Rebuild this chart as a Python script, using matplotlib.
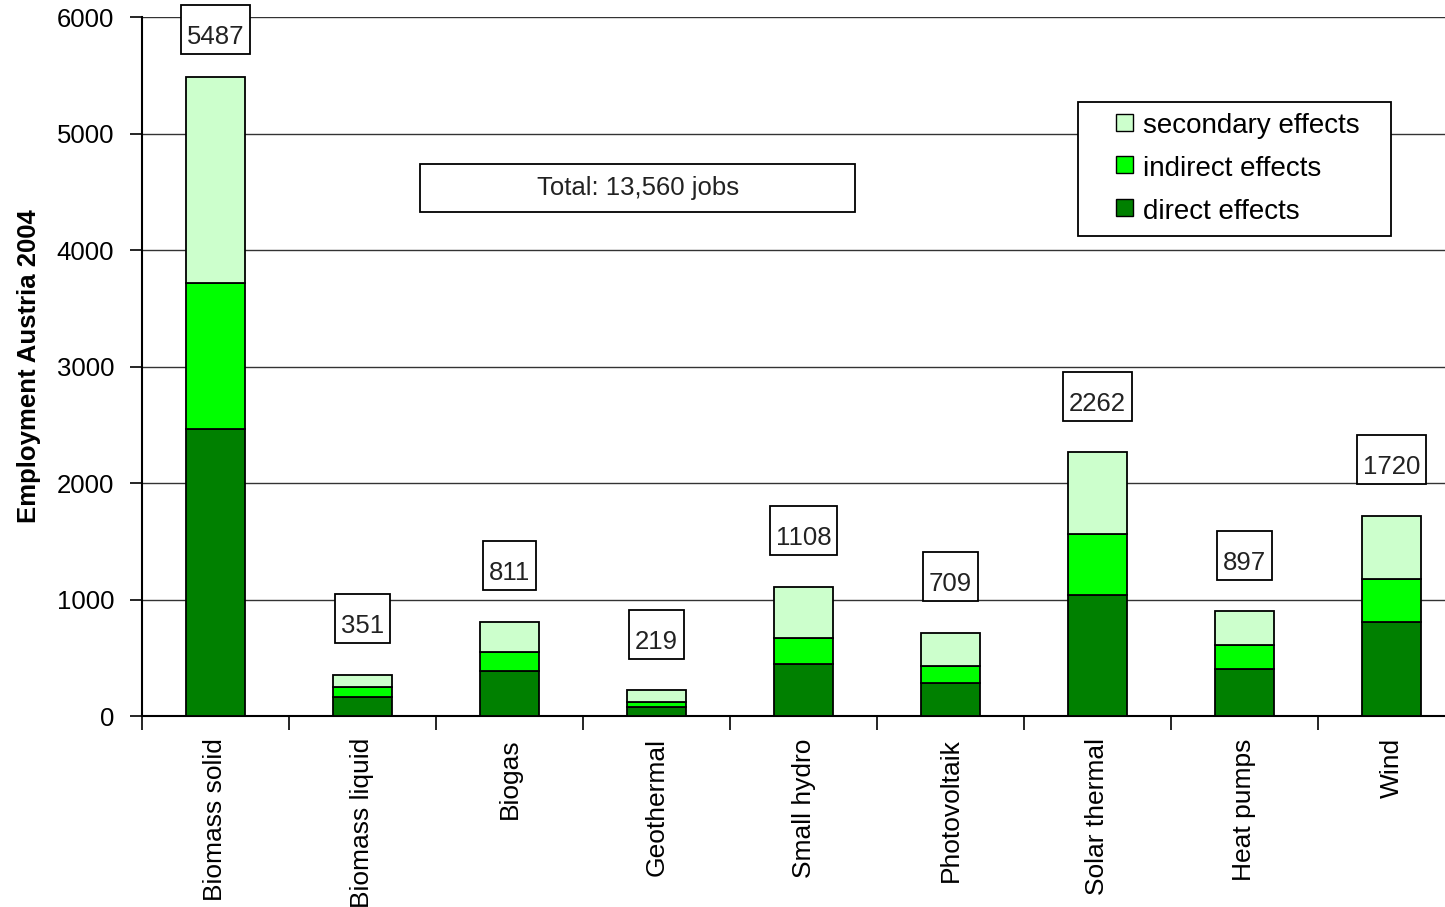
import matplotlib
matplotlib.use('Agg')
import matplotlib.pyplot as plt
import matplotlib.patches as mpatches
from matplotlib.legend_handler import HandlerPatch
import numpy as np

plt.rcParams['font.family'] = ['Liberation Sans', 'DejaVu Sans']

categories = ['Biomass solid', 'Biomass liquid', 'Biogas', 'Geothermal',
              'Small hydro', 'Photovoltaik', 'Solar thermal', 'Heat pumps', 'Wind']
direct = [2465, 163, 387, 80, 447, 284, 1037, 407, 805]
indirect = [1250, 84, 160, 38, 220, 149, 521, 206, 369]
secondary = [1772, 104, 264, 101, 441, 276, 704, 284, 546]
totals = [5487, 351, 811, 219, 1108, 709, 2262, 897, 1720]
total_text = 'Total: 13,560 jobs'

c_sec = '#ccffcc'
c_ind = '#00ff00'
c_dir = '#008000'

W, H = 1445, 907
fig = plt.figure(figsize=(W / 100, H / 100), dpi=100)
# axis runs past the right edge of the picture (cropped original)
ax = fig.add_axes([142 / W, (H - 716) / H, (W - 142) / W, 699 / H])

x = np.arange(len(categories))
d = np.array(direct)
i_ = np.array(indirect)
s = np.array(secondary)
bw = 0.4
ax.bar(x, d, bw, color=c_dir, edgecolor='black', linewidth=1.3, zorder=3)
ax.bar(x, i_, bw, bottom=d, color=c_ind, edgecolor='black', linewidth=1.3, zorder=3)
ax.bar(x, s, bw, bottom=d + i_, color=c_sec, edgecolor='black', linewidth=1.3, zorder=3)

# ticks
ax.set_xticks(np.arange(-0.5, len(categories) - 0.5, 1))
ax.set_xticklabels([])
ax.set_xticks(x, minor=True)
ax.set_xticklabels(categories, minor=True, rotation=90, fontsize=19, va='top')
ax.tick_params(axis='x', which='major', length=10, width=1.2, direction='out')
ax.tick_params(axis='x', which='minor', length=0, pad=16)
ax.set_yticks(np.arange(0, 6001, 1000))
ax.tick_params(axis='y', length=9, width=1.2, labelsize=18.5, pad=11)

ax.set_xlim(-0.5, -0.5 + (W - 142) / 147)
ax.set_ylim(0, 6000)

ax.yaxis.grid(True, color='#333333', lw=1.0, zorder=0)
ax.set_axisbelow(True)
for sp in ['top', 'right']:
    ax.spines[sp].set_visible(False)
for sp in ['left', 'bottom']:
    ax.spines[sp].set_linewidth(1.5)

ax.set_ylabel('Employment Austria 2004', fontsize=18.5, fontweight='bold')
ax.yaxis.set_label_coords(-101 / 1303, 0.5)

# value labels above bars (boxes added after draw)
val_texts = []
for xi, t in zip(x, totals):
    yy = min(t + 420, 5830)
    val_texts.append(ax.text(xi, yy, str(t), ha='center', va='center', fontsize=18.5,
                             color='#222222', zorder=6, clip_on=False))

# total box
ax.add_patch(mpatches.Rectangle((0.2134, 0.721), 0.334, 0.0687, transform=ax.transAxes,
                                facecolor='white', edgecolor='black', lw=1.3, zorder=4))
ax.text(0.2134 + 0.167, 0.721 + 0.034, total_text, transform=ax.transAxes,
        ha='center', va='center', fontsize=18.5, color='#222222', zorder=5)


def small_square(legend, orig_handle, xdescent, ydescent, width, height, fontsize):
    side = 0.62 * fontsize
    return mpatches.Rectangle((width - side - xdescent, height / 2 - side / 2 + 1 - ydescent),
                              side, side)


handles = [mpatches.Patch(facecolor=c_sec, edgecolor='black', label='secondary effects'),
           mpatches.Patch(facecolor=c_ind, edgecolor='black', label='indirect effects'),
           mpatches.Patch(facecolor=c_dir, edgecolor='black', label='direct effects')]
leg = ax.legend(handles=handles, loc='upper left',
                bbox_to_anchor=(0.7184, 0.5, 0.2402, 0.379), mode='expand',
                fontsize=20, fancybox=False, edgecolor='black', framealpha=1,
                handlelength=1.55, handleheight=0.7, handletextpad=0.36,
                labelspacing=0.6, borderpad=0.42, borderaxespad=0,
                handler_map={mpatches.Patch: HandlerPatch(patch_func=small_square)})
leg.get_frame().set_linewidth(1.3)
leg.set_zorder(6)

# boxes around value labels: more room above the digits than below
fig.canvas.draw()
r = fig.canvas.get_renderer()
inv = ax.transData.inverted()
for t in val_texts:
    bb = t.get_window_extent(r)
    x0, y0 = inv.transform((bb.x0 - 6, bb.y0 - 5))
    x1, y1 = inv.transform((bb.x1 + 6, bb.y1 + 20))
    ax.add_patch(mpatches.Rectangle((x0, y0), x1 - x0, y1 - y0, facecolor='white',
                                    edgecolor='black', lw=1.3, zorder=5, clip_on=False))

fig.savefig('out.png', dpi=100)
